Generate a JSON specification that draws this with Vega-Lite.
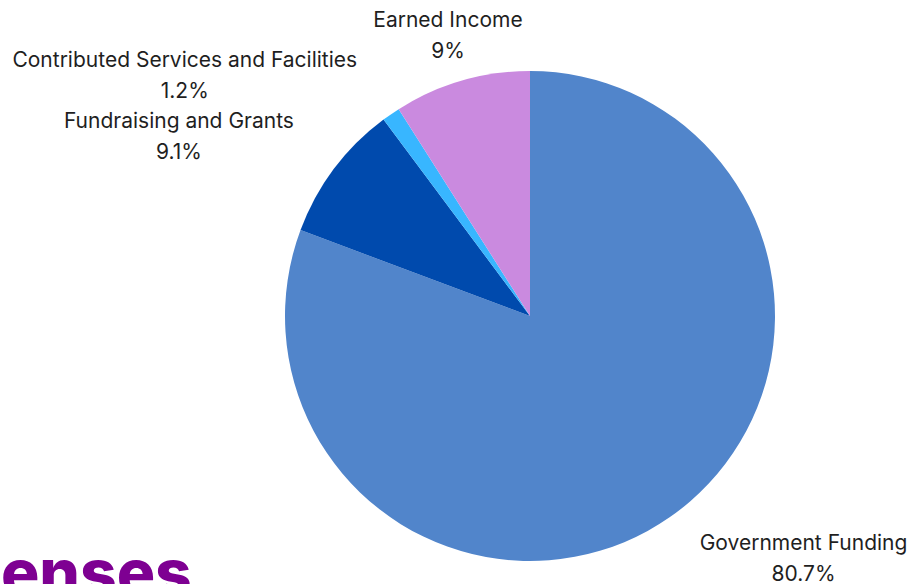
{
  "$schema": "https://vega.github.io/schema/vega-lite/v6.json",
  "width": 490,
  "height": 490,
  "autosize": {"type": "none"},
  "padding": {"left": 285, "top": 71, "right": 135, "bottom": 23},
  "background": "#ffffff",
  "config": {"view": {"stroke": null}, "font": "Inter"},
  "title": {
    "text": "Expenses",
    "orient": "bottom",
    "anchor": "start",
    "frame": "group",
    "baseline": "alphabetic",
    "font": "Inter",
    "fontSize": 64,
    "fontWeight": 800,
    "color": "#7E0092",
    "offset": 10,
    "dx": -402
  },
  "data": {
    "values": [
      {"category": "Government Funding", "value": 80.7},
      {"category": "Fundraising and Grants", "value": 9.1},
      {"category": "Contributed Services and Facilities", "value": 1.2},
      {"category": "Earned Income", "value": 9}
    ]
  },
  "transform": [
    {"calculate": "datum.category + '\\n' + datum.value + '%'", "as": "label"},
    {"calculate": "indexof(['Government Funding', 'Fundraising and Grants', 'Contributed Services and Facilities', 'Earned Income'], datum.category)", "as": "rank"}
  ],
  "encoding": {
    "theta": {"field": "value", "type": "quantitative", "stack": true},
    "order": {"field": "rank", "type": "quantitative", "sort": "ascending"}
  },
  "layer": [
    {
      "mark": {"type": "arc", "stroke": null},
      "encoding": {
        "color": {
          "field": "category",
          "type": "nominal",
          "scale": {
            "domain": ["Government Funding", "Fundraising and Grants", "Contributed Services and Facilities", "Earned Income"],
            "range": ["#5185CB", "#004AAD", "#38B6FF", "#CA8ADF"]
          },
          "legend": null
        }
      }
    },
    {
      "mark": {"type": "text", "radius": 294, "dx": 106, "dy": -14, "fontSize": 21, "fill": "#1f1f1f", "lineBreak": "\n", "lineHeight": 31, "align": "center", "baseline": "middle"},
      "encoding": {
        "text": {"condition": {"test": "datum.category === 'Government Funding'", "field": "label"}, "value": ""}
      }
    },
    {
      "mark": {"type": "text", "radius": 299, "dx": -112, "dy": -14, "fontSize": 21, "fill": "#1f1f1f", "lineBreak": "\n", "lineHeight": 31, "align": "center", "baseline": "middle"},
      "encoding": {
        "text": {"condition": {"test": "datum.category === 'Fundraising and Grants'", "field": "label"}, "value": ""}
      }
    },
    {
      "mark": {"type": "text", "radius": 293, "dx": -179, "dy": -14, "fontSize": 21, "fill": "#1f1f1f", "lineBreak": "\n", "lineHeight": 31, "align": "center", "baseline": "middle"},
      "encoding": {
        "text": {"condition": {"test": "datum.category === 'Contributed Services and Facilities'", "field": "label"}, "value": ""}
      }
    },
    {
      "mark": {"type": "text", "radius": 294, "dx": 0, "dy": -13, "fontSize": 21, "fill": "#1f1f1f", "lineBreak": "\n", "lineHeight": 31, "align": "center", "baseline": "middle"},
      "encoding": {
        "text": {"condition": {"test": "datum.category === 'Earned Income'", "field": "label"}, "value": ""}
      }
    }
  ]
}
